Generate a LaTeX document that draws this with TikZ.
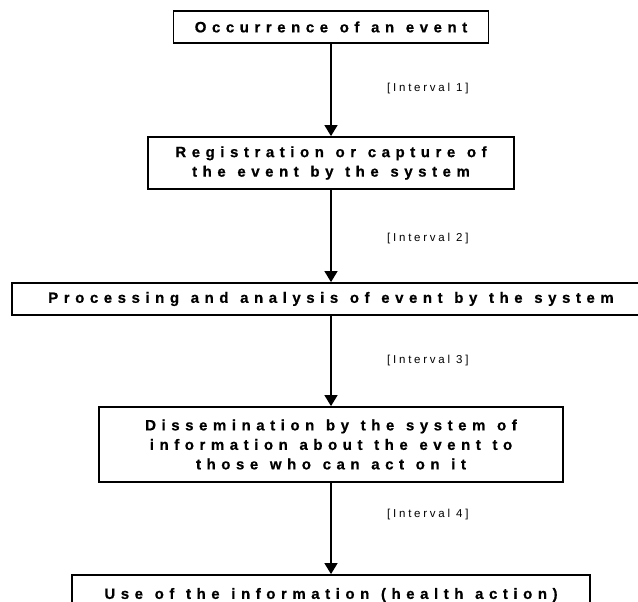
\documentclass[tikz,border=0pt]{standalone}
\usepackage{fontspec}
\setmainfont{Liberation Sans}
\newfontfamily\boxfont[LetterSpace=37,WordSpace=1.2,BoldFeatures={FakeBold=0.6}]{Liberation Sans}
\newfontfamily\lblfont[LetterSpace=24]{Liberation Sans}
\newcommand\stagefont{\boxfont\bfseries\fontsize{15bp}{19.5bp}\selectfont}
\newcommand\gapfont{\lblfont\fontsize{11.5bp}{12bp}\selectfont}
\usetikzlibrary{arrows.meta}
\begin{document}
\begin{tikzpicture}[x=1bp,y=-1bp,
  stagebox/.style={draw=black, line width=1.8bp, fill=white, rectangle, inner sep=0pt,
    align=center, font=\stagefont},
  flow/.style={line width=1.3bp, -{Triangle[width=13bp,length=11bp]}},
  gap/.style={anchor=west, inner sep=0pt, font=\gapfont}]
\useasboundingbox (0,0) rectangle (638,602);
\clip (0,0) rectangle (638,602);
\node[stagebox, minimum width=315bp, minimum height=32bp] (b1) at (331,27) {Occurrence of an event};
\node[stagebox, minimum width=366bp, minimum height=52bp] (b2) at (331,163) {Registration or capture of\\the event by the system};
\node[stagebox, minimum width=638bp, minimum height=32bp] (b3) at (331,299) {Processing and analysis of event by the system};
\node[stagebox, minimum width=464bp, minimum height=75bp] (b4) at (331,444.5) {Dissemination by the system of\\information about the event to\\those who can act on it};
\node[stagebox, minimum width=518bp, minimum height=40bp] (b5) at (331,595) {Use of the information (health action)};
\draw[flow] (b1) -- (b2);
\draw[flow] (b2) -- (b3);
\draw[flow] (b3) -- (b4);
\draw[flow] (b4) -- (b5);
\node[gap] (i1) at (387,89) {[Interval 1]};
\node[gap] (i2) at (387,239) {[Interval 2]};
\node[gap] (i3) at (387,361) {[Interval 3]};
\node[gap] (i4) at (387,515) {[Interval 4]};
\end{tikzpicture}
\end{document}
